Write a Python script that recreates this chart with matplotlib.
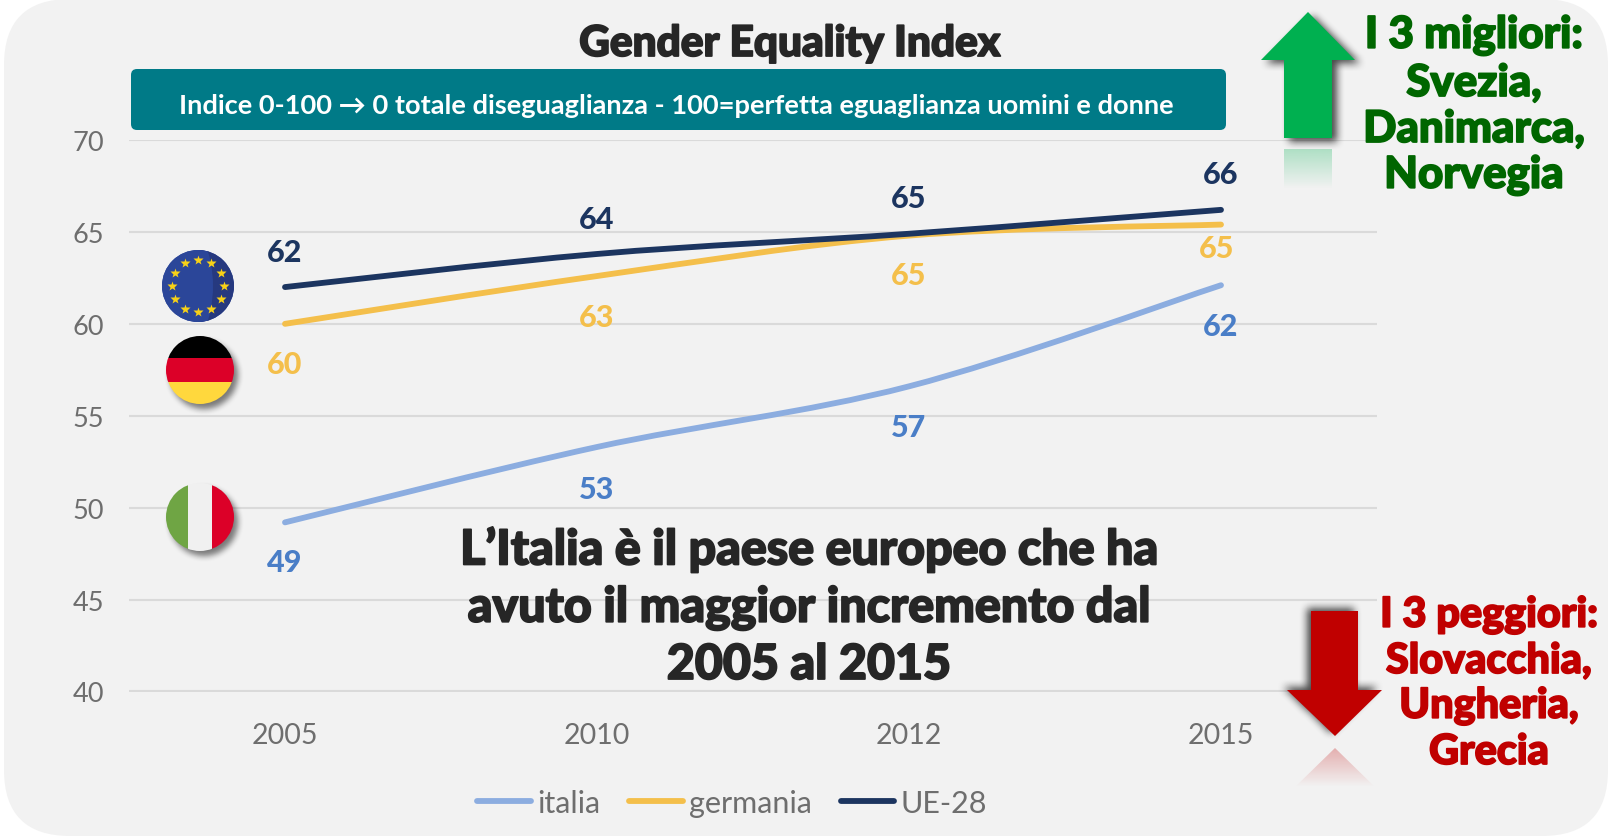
import numpy as np
import matplotlib
matplotlib.use("Agg")
import matplotlib.pyplot as plt
from matplotlib.lines import Line2D
from matplotlib.patches import FancyBboxPatch, PathPatch, Polygon, Circle, Rectangle
from matplotlib.path import Path
import matplotlib.patheffects as pe

years = ["2005", "2010", "2012", "2015"]
italia = [49.2, 53.3, 56.6, 62.1]
germania = [60.0, 62.6, 64.8, 65.4]
ue28 = [62.0, 63.8, 64.9, 66.2]
series_names = ["italia", "germania", "UE-28"]
y_ticks = [40, 45, 50, 55, 60, 65, 70]

W, H = 1614, 837
SANS = ["Lato", "DejaVu Sans"]
plt.rcParams["font.family"] = SANS
C_IT, C_DE, C_EU = "#8CADE0", "#F4BF4B", "#1C3560"
L_IT, L_DE, L_EU = "#4A7EC7", "#F4BF4B", "#1C3560"
GREY = "#6E6E6E"
BG = "#F2F2F2"

fig = plt.figure(figsize=(W / 100, H / 100), dpi=100, facecolor="white")

# pixel-space layers
def px_axes(z):
    a = fig.add_axes([0, 0, 1, 1], zorder=z)
    a.set_xlim(0, W); a.set_ylim(H, 0); a.axis("off"); a.patch.set_alpha(0)
    return a

back = px_axes(0)
back.add_patch(FancyBboxPatch((4 + 66, 0 + 66), 1604 - 132, H - 132,
                              boxstyle="round,pad=66,rounding_size=66", fc=BG, ec="none"))

# chart
ax = fig.add_axes([129 / W, 1 - 692.5 / H, (1377 - 129) / W, (692.5 - 141) / H], zorder=1)
ax.patch.set_alpha(0)
ax.set_xlim(-0.5, 3.5); ax.set_ylim(40, 70)
ax.set_xticks(range(4)); ax.set_xticklabels(years)
ax.set_yticks(y_ticks)
ax.tick_params(length=0, labelsize=20.5, labelcolor=GREY)
ax.tick_params(axis="x", pad=22)
ax.tick_params(axis="y", pad=18)
ax.tick_params(axis="y", labelsize=19.5)
ax.grid(axis="y", color="#DADADA", lw=1.5)
ax.set_axisbelow(True)
for s in ax.spines.values():
    s.set_visible(False)

def smooth(vals, color):
    p = np.column_stack([np.arange(len(vals)), vals], ).astype(float)
    v, c = [p[0]], [Path.MOVETO]
    for i in range(len(p) - 1):
        a = p[max(i - 1, 0)]; b = p[i]; d = p[i + 1]; e = p[min(i + 2, len(p) - 1)]
        v += [b + (d - a) / 6, d - (e - b) / 6, d]
        c += [Path.CURVE4] * 3
    ax.add_patch(PathPatch(Path(np.array(v), c), fc="none", ec=color, lw=4.2,
                           capstyle="round", zorder=3))

smooth(italia, C_IT); smooth(germania, C_DE); smooth(ue28, C_EU)

def labels(vals, color, dy, dx=(0, 0, 0, 0)):
    for i, v in enumerate(vals):
        ax.annotate(f"{round(v)}", (i, v), xytext=(dx[i], dy[i]), textcoords="offset points",
                    ha="center", va="center", fontsize=22, fontweight="black", color=color, zorder=4)

labels(italia, L_IT, [-28.5, -30, -29.5, -29.5])
labels(germania, L_DE, [-29, -29.5, -28.5, -17], [0, 0, 0, -3])
labels(ue28, L_EU, [25, 25.5, 26, 25.5])

handles = [Line2D([], [], color=c, lw=4.2, solid_capstyle="round") for c in (C_IT, C_DE, C_EU)]
ax.legend(handles, series_names, loc="center", bbox_to_anchor=(732 / W, 1 - 804 / H),
          bbox_transform=fig.transFigure, ncol=3, frameon=False, fontsize=22, labelcolor=GREY,
          handlelength=1.75, handletextpad=0.2, columnspacing=0.95)

top = px_axes(2)

def shadow(poly, dx, dy, blur, alpha):
    poly = np.array(poly, float)
    x0, y0 = poly.min(0) - 25; x1, y1 = poly.max(0) + 25
    xs = np.arange(int(x0), int(x1)); ys = np.arange(int(y0), int(y1))
    gx, gy = np.meshgrid(xs + .5, ys + .5)
    m = Path(poly + [dx, dy]).contains_points(np.column_stack([gx.ravel(), gy.ravel()])).reshape(gx.shape).astype(float)
    k = np.ones(blur) / blur
    for _ in range(2):
        m = np.apply_along_axis(lambda r: np.convolve(r, k, "same"), 0, m)
        m = np.apply_along_axis(lambda r: np.convolve(r, k, "same"), 1, m)
    rgba = np.zeros(m.shape + (4,)); rgba[..., 3] = m * alpha
    top.imshow(rgba, extent=(xs[0], xs[-1] + 1, ys[-1] + 1, ys[0]), aspect="auto", zorder=1, interpolation="bilinear")

def fade(poly, color, a0, y0, y1):
    rgb = matplotlib.colors.to_rgb(color)
    g = np.zeros((64, 1, 4)); g[..., :3] = rgb
    g[..., 3] = np.linspace(a0, 0, 64)[:, None]
    poly = np.array(poly, float)
    im = top.imshow(g, extent=(poly[:, 0].min(), poly[:, 0].max(), y1, y0), aspect="auto", zorder=2)
    im.set_clip_path(Polygon(poly, transform=top.transData))

# green arrow
up = [(1308, 13), (1355, 61), (1332, 61), (1332, 139), (1284, 139), (1284, 61), (1261, 61)]
shadow(up, 5, 4, 9, 0.7)
top.add_patch(Polygon(up, fc="#00B050", ec="none", zorder=3))
fade([(1284, 150), (1332, 150), (1332, 190), (1284, 190)], "#00B050", 0.28, 150, 190)

# red arrow
down = [(1311, 612), (1358, 612), (1358, 691), (1382, 691), (1335, 737), (1287, 691), (1311, 691)]
shadow(down, -4, -3, 9, 0.7)
top.add_patch(Polygon(down, fc="#C00000", ec="none", zorder=3))
fade([(1335, 749), (1375, 788), (1295, 788)], "#C00000", 0.28, 749, 788)

# banner
top.add_patch(FancyBboxPatch((137, 76), 1083, 49, boxstyle="round,pad=6,rounding_size=6",
                             fc="#007A87", ec="none", zorder=3))

# flags
def flag_clip(cx, cy, r):
    return Circle((cx, cy), r, transform=top.transData)

def flag_shadow(cx, cy, r):
    t = np.linspace(0, 2 * np.pi, 80)
    shadow(np.column_stack([cx + r * np.cos(t), cy + r * np.sin(t)]), 4, 5, 7, 0.5)

def stripes(cx, cy, r, rects):
    clip = flag_clip(cx, cy, r)
    for x, y, w, h, c in rects:
        p = Rectangle((x, y), w, h, fc=c, ec="none", zorder=3)
        top.add_patch(p)
        p.set_clip_path(clip)

# EU
top.add_patch(Circle((198, 287), 36, fc="#2B4699", ec="none", zorder=3))
stripes(198, 287, 36, [(198, 250, 40, 74, "#26397F")])
crescent = Circle((92, 287), 121, fc="#2B4699", ec="none", zorder=3.2)
top.add_patch(crescent)
crescent.set_clip_path(flag_clip(198, 287, 36))
ang = np.deg2rad(np.arange(0, 360, 30))
top.plot(198 + 26 * np.cos(ang), 287 + 26 * np.sin(ang), ls="none", marker="*", ms=7,
         mfc="#F7D117", mec="none", zorder=4)

# Germany
flag_shadow(200, 371, 34)
stripes(200, 371, 34, [(160, 330, 80, 29, "#000000"), (160, 359, 80, 24, "#DC0028"), (160, 383, 80, 30, "#FFD83D")])
# Italy
flag_shadow(200, 518, 34)
stripes(200, 518, 34, [(160, 480, 28, 76, "#6FA544"), (188, 480, 24, 76, "#F0F0F0"), (212, 480, 28, 76, "#DC0028")])

heavy = dict(fontweight="black", family=SANS, zorder=5, ha="center", va="center", linespacing=1.0)
def heavy_text(x, y, s, size, color, stroke=1.3):
    return top.text(x, y, s, fontsize=size, color=color, **heavy,
                    path_effects=[pe.withStroke(linewidth=stroke, foreground=color)])

heavy_text(790, 45, "Gender Equality Index", 30.5, "#262626")
top.text(676, 106, "Indice 0-100 \u2192 0 totale diseguaglianza - 100=perfetta eguaglianza uomini e donne",
         fontsize=19.6, fontweight="bold", color="white", ha="center", va="center", zorder=5)

for y, s in zip((551, 609, 666),
                ("L\u2019Italia \u00e8 il paese europeo che ha",
                 "avuto il maggior incremento dal", "2005 al 2015")):
    heavy_text(809, y, s, 34.8, "#262626")

GREEN = "#006600"; RED = "#C00000"
for y, s in zip((36, 84, 130, 176), ("I 3 migliori:", "Svezia,", "Danimarca,", "Norvegia")):
    heavy_text(1474, y, s, 31.5, GREEN)
for y, s in zip((616, 662, 707, 753), ("I 3 peggiori:", "Slovacchia,", "Ungheria,", "Grecia")):
    heavy_text(1489, y, s, 29.8, RED)

top.set_xlim(0, W); top.set_ylim(H, 0)
fig.savefig("out.png", dpi=100, facecolor="white")
